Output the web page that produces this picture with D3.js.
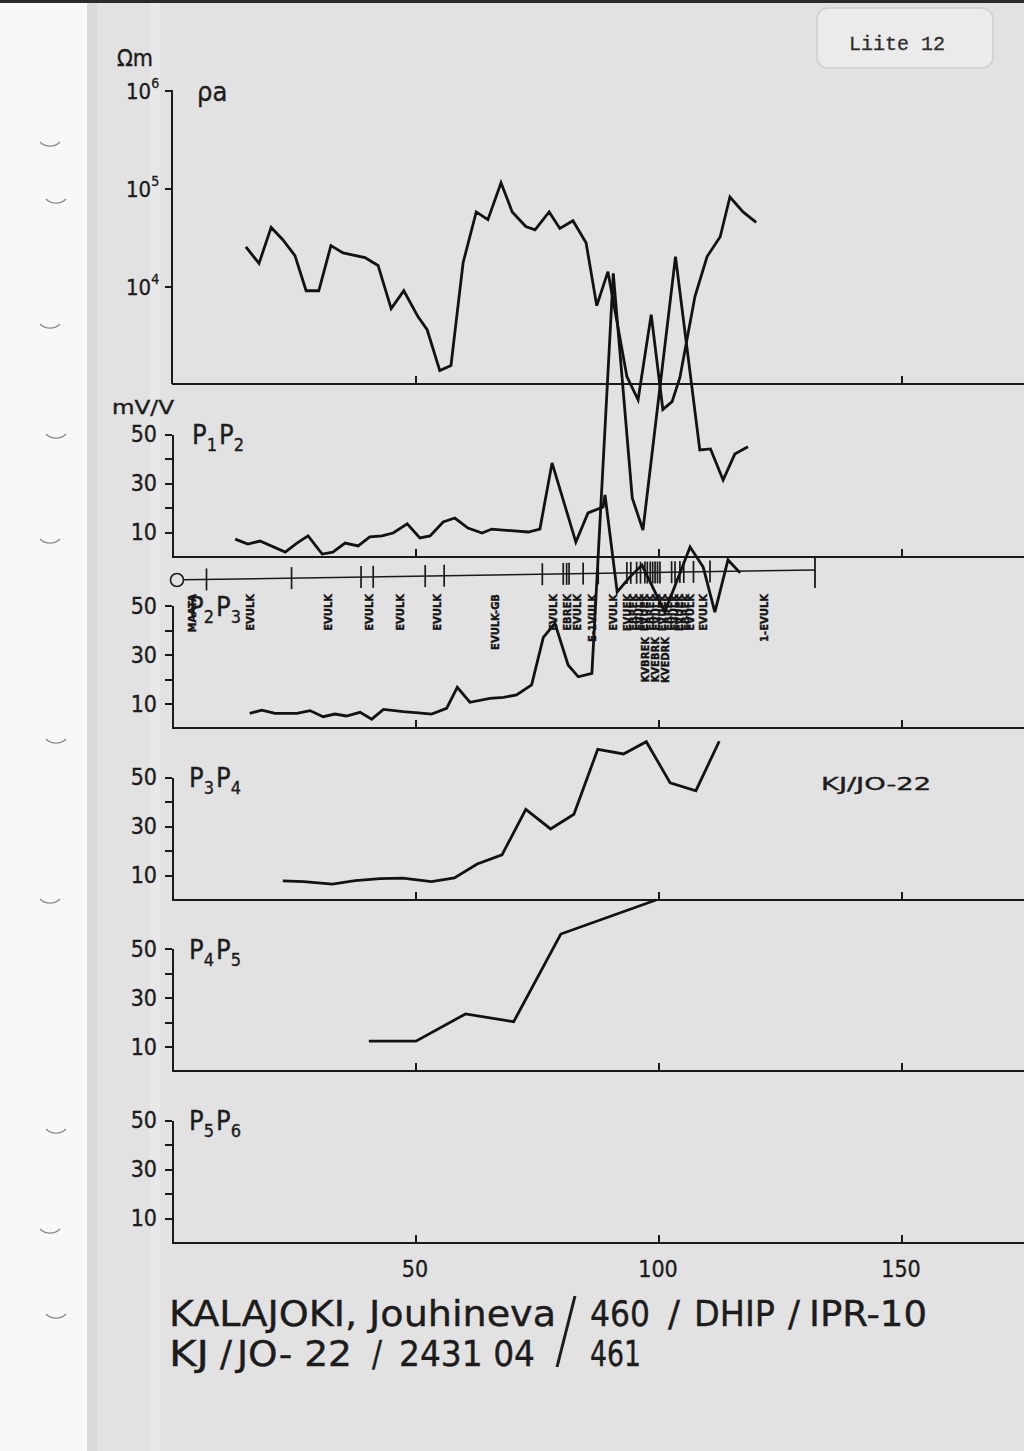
<!DOCTYPE html>
<html><head><meta charset="utf-8">
<script src="https://cdn.jsdelivr.net/npm/d3@7"></script>
<style>
body{margin:0;background:#e2e2e2}
svg{display:block}
.lt{font-family:"DejaVu Sans Condensed","DejaVu Sans",sans-serif;fill:#1c1c1c;stroke:#1c1c1c;stroke-width:0.35}
.ax path,.ax line{stroke:#1a1a1a;stroke-width:2;shape-rendering:crispEdges}
.ser{fill:none;stroke:#121212;stroke-width:2.8;stroke-linejoin:miter}
</style></head>
<body><svg id="c" width="1024" height="1451"></svg>
<script>
// ---------- data ----------
const rhoX=[15.2,17.9,20.4,22.8,25.3,27.6,30.2,32.7,35.2,39.7,42.4,45.1,47.7,50.6,52.5,55.1,57.4,59.9,62.6,65.0,67.7,70.0,72.8,74.7,77.6,79.8,82.5,85.2,87.4,89.7,93.6,95.9,98.6,101.0,102.9,104.5,107.6,110.1,112.8,114.8,117.5,120.2];
const rhoVal=[25100,17000,39600,29700,20400,8940,8940,25800,21800,19500,16200,5870,8940,4870,3580,1370,1540,17300,57000,47500,113000,57000,40500,37500,57000,38700,46400,27600,6300,14000,1190,690,5100,550,660,1160,7800,20000,31800,81000,57000,44500];
const p12X=[13.0,15.6,18.1,23.3,25.7,28.0,30.9,33.1,35.6,38.3,40.7,43.2,45.5,48.4,51.0,53.1,55.8,58.2,60.9,63.8,65.8,68.1,73.3,75.7,78.2,83.1,85.6,88.7,89.1,91.6,94.2,96.7,101.4,106.6,109.3,111.7,114.4,116.9];
const p12Val=[7.1,5.1,6.3,1.8,5.5,8.4,1.0,1.8,5.5,4.3,8.0,8.4,9.6,13.3,7.6,8.4,14.1,15.7,11.6,9.6,11.2,10.8,10.0,11.2,38.2,5.9,17.8,20.2,25.1,-14.5,-8.4,-3.5,-22.7,3.9,-4.3,-22.7,-1.4,-6.7];
const p23X=[16.0,18.5,21.2,25.7,28.4,31.1,33.5,35.9,38.7,41.1,43.5,47.6,50.7,53.4,56.5,58.7,61.3,65.4,68.2,70.9,74.0,76.4,78.8,81.5,83.6,86.4,90.8,94.7,96.9,103.6,108.6,110.8,113.4,115.8,118.5];
const p23Val=[6.0,7.3,6.0,6.0,7.1,4.6,5.7,4.9,6.4,3.6,7.6,6.7,6.2,5.7,8.0,16.6,10.5,12.1,12.5,13.5,17.6,37.0,42.7,25.7,20.9,22.3,185.6,93.9,80.8,192.4,113.5,113.9,101.2,111.8,114.8];
const p34X=[22.8,27.1,33.0,37.7,42.8,47.5,53.4,58.1,62.8,67.9,72.8,77.9,82.7,87.6,92.9,97.6,102.5,107.8,112.6];
const p34Val=[7.6,7.3,6.3,7.7,8.5,8.7,7.3,8.8,14.5,18.2,36.8,28.8,34.8,61.3,59.4,64.4,47.6,44.4,64.6];
const p45X=[40.5,50.2,60.4,70.3,80.0,99.6];
const p45Val=[12.2,12.2,23.3,20.1,55.9,69.8];
const p56X=[];
const p56Val=[];
const panelNames=[["1","2"],["2","3"],["3","4"],["4","5"],["5","6"]];
const mvTicks=[10,20,30,40,50];
const mvTickLabels=[10,30,50];
const rhoTicks=[1e4,1e5,1e6];
const xTicks=[50,100,150];
const markerX=[7.1,24.6,38.9,41.4,52.1,56.0,76.2,80.5,81.2,81.7,84.6,87.7,93.6,94.4,95.6,96.4,97.3,97.8,98.4,98.9,99.4,99.9,100.4,102.8,103.5,104.5,105.3,107.3,110.7];
const markerEnd=132.3;
const labelText=["MAATA","EVULK","EVULK","EVULK","EVULK","EVULK","EVULK-GB","EVULK","EBREK","EVULK","E-1VULK","EVULK",
 "EVUEK","EBREK","EVULK","EVUEK","EBREK","EVULK","EVUEK","EBREK","EVULK","EVUEK","EBREK","EVULK",
 "KVBREK","KVEBRK","KVEDRK","EVULK","1-EVULK"];
const labelX=[4.1,16.0,32.1,40.5,46.9,54.5,66.5,78.4,81.2,83.3,86.4,90.7,
 93.6,94.8,96.0,97.2,98.4,99.6,100.8,102.0,103.2,104.4,105.6,106.6,
 97.3,99.4,101.4,109.3,121.8];
const labelRow=[0,0,0,0,0,0,0,0,0,0,0,0, 0,0,0,0,0,0,0,0,0,0,0,0, 1,1,1,0,0];

// ---------- layout ----------
const svg=d3.select("#c");
const W=1024,H=1451;
const x=d3.scaleLinear().domain([0,175]).range([172,172+175*4.86]);
const yRho=d3.scaleLog().domain([1e3,1e6]).range([384,90]);
const panelTop=[434,605.5,777,948.5,1120];
const yP=panelTop.map(t=>d3.scaleLinear().domain([0,50]).range([t+122.5,t]));

// background
svg.append("rect").attr("width",W).attr("height",H).attr("fill","#e2e2e2");
svg.append("rect").attr("width",87).attr("height",H).attr("fill","#f8f8f8");
svg.append("rect").attr("x",87).attr("width",10).attr("height",H).attr("fill","#d6d6d6").attr("opacity",0.6);
svg.append("rect").attr("x",150).attr("width",10).attr("height",H).attr("fill","#ececec").attr("opacity",0.6);
svg.append("rect").attr("width",W).attr("height",3).attr("fill","#2a2a2a");
// binder hole marks
[148,205,330,440,545,745,905,1135,1235,1320].forEach((yy,i)=>{
  svg.append("path").attr("d",`M${40+(i%2)*6},${yy-6} a14,14 0 0,0 20,0`)
   .attr("fill","none").attr("stroke","#8a8a8a").attr("stroke-width",1.2);
});

// Liite box
svg.append("rect").attr("x",817).attr("y",8).attr("width",176).attr("height",60).attr("rx",11)
  .attr("fill","#ebebeb").attr("stroke","#cfcfcf").attr("stroke-width",1.5);
svg.append("text").attr("x",897).attr("y",50).attr("text-anchor","middle")
  .attr("font-family","'Liberation Mono','DejaVu Sans Mono',monospace").attr("font-size",20)
  .attr("fill","#2e2e2e").attr("stroke","#2e2e2e").attr("stroke-width",0.3).text("Liite 12");

// ---------- rho panel ----------
const gR=svg.append("g").attr("class","ax").attr("transform","translate(172,0)")
  .call(d3.axisLeft(yRho).tickValues(rhoTicks).tickSize(7).tickSizeOuter(0).tickFormat(""));
gR.select(".domain").attr("d","M0,90V384");
svg.append("g").attr("class","ax").attr("transform","translate(0,384)")
  .call(d3.axisTop(x).tickValues(xTicks).tickSize(8).tickSizeOuter(0).tickFormat(""))
  .select(".domain").attr("d","M172,0H1024");
rhoTicks.forEach(v=>{
  const t=svg.append("text").attr("class","lt").attr("x",126).attr("y",yRho(v)+9).attr("font-size",22);
  t.append("tspan").text("10");
  t.append("tspan").attr("dy",-11).attr("font-size",14).text(Math.round(Math.log10(v)));
});
svg.append("text").attr("class","lt").attr("x",117).attr("y",66).attr("font-size",23).text("Ωm");
svg.append("text").attr("class","lt").attr("x",197).attr("y",101).attr("font-size",27).text("ρa");
svg.append("text").attr("class","lt").attr("x",112).attr("y",414).attr("font-size",20)
  .attr("textLength",62).attr("lengthAdjust","spacingAndGlyphs").text("mV/V");

// ---------- mV/V panels ----------
yP.forEach((ys,i)=>{
  svg.append("g").attr("class","ax").attr("transform","translate(172,0)")
   .call(d3.axisLeft(ys).tickValues(mvTicks).tickSize(7).tickSizeOuter(0).tickFormat(""));
  svg.append("g").attr("class","ax").attr("transform",`translate(0,${ys(0)})`)
   .call(d3.axisTop(x).tickValues(xTicks).tickSize(8).tickSizeOuter(0).tickFormat(""))
   .select(".domain").attr("d","M172,0H1024");
  mvTickLabels.forEach(v=>{
    svg.append("text").attr("class","lt").attr("x",157).attr("y",ys(v)+8).attr("text-anchor","end")
      .attr("font-size",23).text(v);
  });
  const t=svg.append("text").attr("class","lt").attr("x",i==0?192:189).attr("y",panelTop[i]+10).attr("font-size",27);
  t.append("tspan").text("P");
  t.append("tspan").attr("dy",7).attr("font-size",18).text(panelNames[i][0]);
  t.append("tspan").attr("dy",-7).attr("dx",2).text("P");
  t.append("tspan").attr("dy",7).attr("font-size",18).text(panelNames[i][1]);
});

// bottom x labels
xTicks.forEach(v=>{
  svg.append("text").attr("class","lt").attr("x",x(v)).attr("y",1277).attr("text-anchor","middle")
   .attr("font-size",23).text(v);
});

// ---------- marker line ----------
const mk=px=>580-(px-172)*0.0156;
svg.append("circle").attr("cx",177).attr("cy",580).attr("r",6.5).attr("fill","none").attr("stroke","#1a1a1a").attr("stroke-width",1.6);
svg.append("line").attr("x1",183.5).attr("y1",mk(183.5)).attr("x2",x(markerEnd)).attr("y2",mk(x(markerEnd)))
  .attr("stroke","#1a1a1a").attr("stroke-width",1.4);
svg.selectAll(".mt").data(markerX).enter().append("line")
  .attr("x1",d=>x(d)).attr("x2",d=>x(d)).attr("y1",d=>mk(x(d))-11).attr("y2",d=>mk(x(d))+11)
  .attr("stroke","#1a1a1a").attr("stroke-width",1.7);
svg.append("line").attr("x1",x(markerEnd)).attr("x2",x(markerEnd)).attr("y1",556).attr("y2",588)
  .attr("stroke","#1a1a1a").attr("stroke-width",1.8);
labelText.forEach((s,i)=>{
  const px=x(labelX[i])+4, py=labelRow[i]?637:594;
  svg.append("text").attr("transform",`translate(${px},${py}) rotate(-90)`)
   .attr("text-anchor","end").attr("font-family","'DejaVu Sans',sans-serif").attr("font-weight","bold")
   .attr("font-size",10).attr("fill","#151515").attr("stroke","#151515").attr("stroke-width",0.4).text(s);
});

// ---------- series ----------
const rhoLine=d3.line().x(d=>x(d[0])).y(d=>yRho(d[1]));
svg.append("path").attr("class","ser").attr("d",rhoLine(d3.zip(rhoX,rhoVal)));
const series=[[p12X,p12Val],[p23X,p23Val],[p34X,p34Val],[p45X,p45Val],[p56X,p56Val]];
series.forEach((s,i)=>{
  if(!s[0].length) return;
  const ln=d3.line().x(d=>x(d[0])).y(d=>yP[i](d[1]));
  svg.append("path").attr("class","ser").attr("d",ln(d3.zip(s[0],s[1])));
});

// ---------- texts ----------
svg.append("text").attr("class","lt").attr("x",821).attr("y",790).attr("font-size",18)
  .attr("textLength",110).attr("lengthAdjust","spacingAndGlyphs").text("KJ/JO-22");

const title=[
 ["KALAJOKI, Jouhineva",169,556,1326],["460",590,650,1326],["/",668,680,1326],["DHIP",694,775,1326],["/",788,800,1326],["IPR-10",809,927,1326],
 ["KJ",169,209,1366],["/",220,232,1366],["JO- 22",237,352,1366],["/",372,382,1366],["2431 04",399,535,1366],["461",590,641,1366]
];
title.forEach(t=>{
  svg.append("text").attr("class","lt").attr("x",t[1]).attr("y",t[3]).attr("font-size",35)
   .attr("stroke-width",0.6)
   .attr("textLength",t[2]-t[1]).attr("lengthAdjust","spacingAndGlyphs").text(t[0]);
});
svg.append("line").attr("x1",575).attr("y1",1296).attr("x2",557).attr("y2",1367)
  .attr("stroke","#1c1c1c").attr("stroke-width",3);
</script></body></html>
